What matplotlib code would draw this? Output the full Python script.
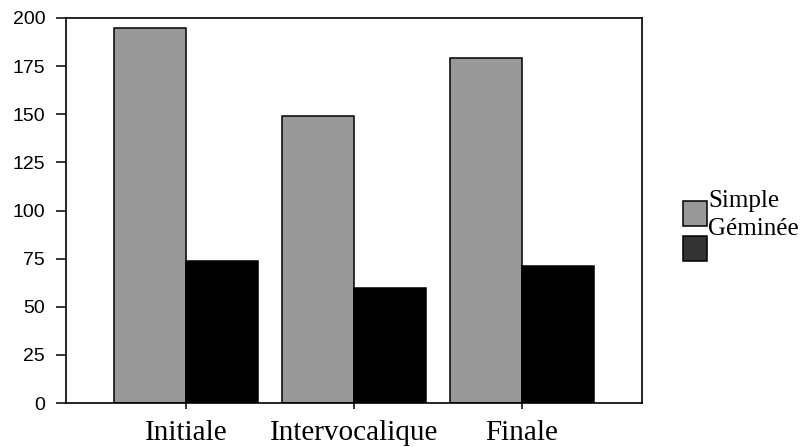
import numpy as np
import matplotlib
matplotlib.use("Agg")
import matplotlib.pyplot as plt
from matplotlib.patches import Rectangle

categories = ["Initiale", "Intervocalique", "Finale"]
simple = [195, 149, 179]
geminee = [74, 60, 71]
series_names = ["Simple", "Géminée"]
yticks = [0, 25, 50, 75, 100, 125, 150, 175, 200]

W, H = 807, 447
fig = plt.figure(figsize=(W / 100, H / 100), dpi=100)
ax = fig.add_axes([66 / W, (H - 403) / H, (642 - 66) / W, (403 - 18) / H])

x = np.arange(len(categories))
bw = 0.43
ax.bar(x - bw / 2, simple, width=bw, color="#999999", edgecolor="black", linewidth=1.1)
ax.bar(x + bw / 2, geminee, width=bw, color="black", edgecolor="black", linewidth=1.1)

ax.set_xlim(-0.714, 2.714)
ax.set_ylim(0, 200)
ax.set_yticks(yticks)
ax.set_xticks(x)
ax.set_xticklabels(categories, fontfamily="Liberation Serif", fontsize=21)
for lab in ax.get_yticklabels():
    lab.set_fontfamily("Liberation Sans")
    lab.set_fontsize(14)
ax.tick_params(axis="y", length=7, width=1.1, pad=8)
ax.tick_params(axis="x", length=4, width=1.1, pad=8)
for s in ax.spines.values():
    s.set_linewidth(1.2)

# legend drawn by hand (patches offset from labels as in the original)
cols = ["#999999", "#333333"]
for i, c in enumerate(cols):
    y0 = (H - 226 - i * 35) / H
    fig.patches.append(Rectangle((683 / W, y0), 24 / W, 25 / H, transform=fig.transFigure,
                                 facecolor=c, edgecolor="black", linewidth=1.1))
for i, name in enumerate(series_names):
    fig.text(708 / W, (H - 207 - i * 28) / H, name, fontfamily="Liberation Serif",
             fontsize=18, ha="left", va="baseline")

fig.savefig("out.png", dpi=100)
